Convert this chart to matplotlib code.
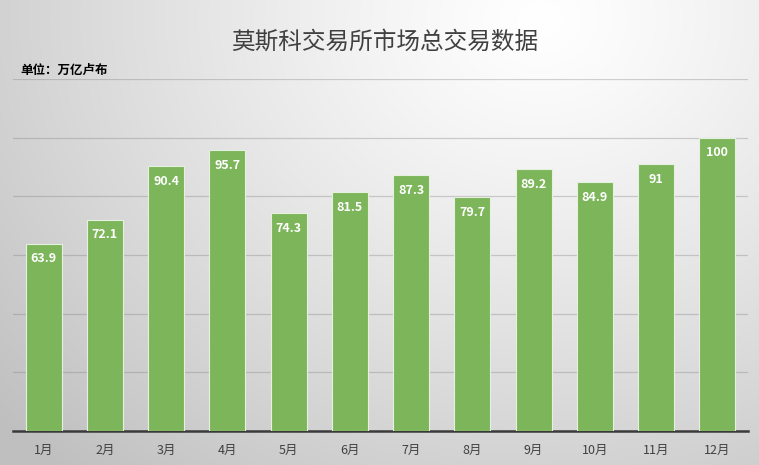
import numpy as np
import matplotlib
matplotlib.use("Agg")
import matplotlib.pyplot as plt

plt.rcParams['font.family'] = ['Noto Sans CJK SC', 'DejaVu Sans']

months = ['1月', '2月', '3月', '4月', '5月', '6月', '7月', '8月', '9月', '10月', '11月', '12月']
values = [63.9, 72.1, 90.4, 95.7, 74.3, 81.5, 87.3, 79.7, 89.2, 84.9, 91, 100]
value_labels = ['63.9', '72.1', '90.4', '95.7', '74.3', '81.5', '87.3', '79.7', '89.2', '84.9', '91', '100']
title = '莫斯科交易所市场总交易数据'
unit = '单位：万亿卢布'

W, H = 759, 465
fig = plt.figure(figsize=(W / 100, H / 100), dpi=100)

# background radial gradient
bg = fig.add_axes([0, 0, 1, 1], zorder=0)
yy, xx = np.mgrid[0:H, 0:W]
cx, cy = 540, 20
d = np.sqrt(((xx - cx) / 600.0) ** 2 + ((yy - cy) / 500.0) ** 2)
v = 1.0 - 0.2 * np.clip(d, 0, 1.2) ** 1.2
img = np.dstack([v, v, v])
bg.imshow(img, aspect='auto', extent=[0, 1, 0, 1], origin='upper')
bg.axis('off')

ax = fig.add_axes([13 / W, (H - 431) / H, (748 - 13) / W, (431 - 79) / H], zorder=1)
ax.patch.set_alpha(0)
x = np.arange(len(months))
bars = ax.bar(x, values, width=0.59, color='#7cb55a', edgecolor='#e6f0df', linewidth=0.8, zorder=3)
ax.set_xlim(-0.5, len(months) - 0.5)
ax.set_ylim(0, 120)
ax.set_yticks(np.arange(20, 121, 20))
ax.yaxis.grid(True, color='#7f7f7f', alpha=0.35, linewidth=0.9, zorder=0)
ax.tick_params(axis='y', left=False, labelleft=False)
ax.tick_params(axis='x', bottom=False, colors='#404040', labelsize=9, pad=6)
ax.set_xticks(x)
ax.set_xticklabels(months)
for s in ['top', 'right', 'left']:
    ax.spines[s].set_visible(False)
ax.spines['bottom'].set_color('#3a3a3a')
ax.spines['bottom'].set_linewidth(1.8)

for xi, val, lab in zip(x, values, value_labels):
    ax.text(xi, val - 3, lab, ha='center', va='top', color='white', fontsize=9, fontweight='bold', zorder=4)

fig.text(385 / W, 1 - 42 / H, title, ha='center', va='center', fontsize=17, color='#404040')
fig.text(20 / W, 1 - 70 / H, unit, ha='left', va='center', fontsize=9, fontweight='bold', color='#000000')

fig.savefig('out.png', dpi=100)
